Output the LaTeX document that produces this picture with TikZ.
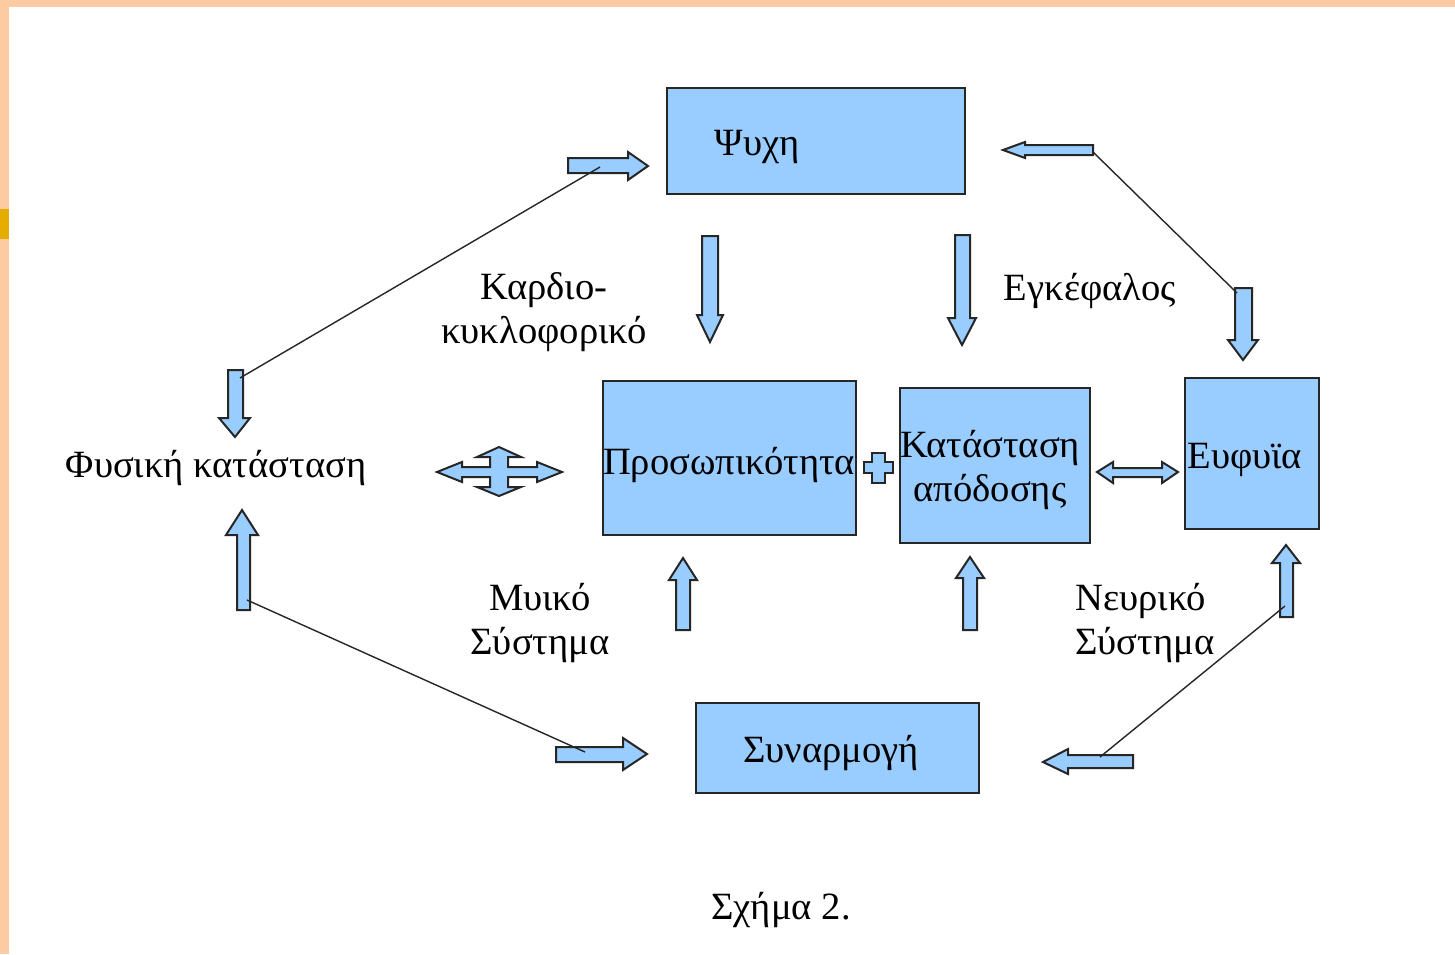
\documentclass[tikz,border=0pt]{standalone}
\usepackage{fontspec}
\setmainfont{Liberation Serif}
\usetikzlibrary{fit}
\definecolor{boxblue}{HTML}{99CCFF}
\definecolor{peach}{HTML}{FCCBA2}
\definecolor{gold}{HTML}{E6AC00}
\tikzset{
  box/.style={draw=black!85, line width=1pt, fill=boxblue, inner sep=0pt},
  barrow/.style={draw=black!85, line width=1pt, fill=boxblue, line join=miter},
  lbl/.style={inner sep=0pt, font=\fontsize{19.3}{22}\selectfont},
  link/.style={draw=black!85, line width=0.7pt}
}
\begin{document}
\begin{tikzpicture}[x=0.5pt,y=-0.5pt]
% page background and frame
\fill[peach] (0,0) rectangle (1455,954);
\fill[white] (9,7) rectangle (1455,954);
\fill[gold] (0,209) rectangle (9,239);
\useasboundingbox (0,0) rectangle (1455,954);

% boxes
\node[box, fit={(667,88) (965,194)}] (psi) {};
\node[box, fit={(603,381) (856,535)}] (pros) {};
\node[box, fit={(900,388) (1090,543)}] (kat) {};
\node[box, fit={(1185,378) (1319,529)}] (efy) {};
\node[box, fit={(696,703) (979,793)}] (syn) {};

% texts
\node[lbl] (tpsi) at (757,147) {Ψυχη};
\node[lbl] (tpros) at (729,465) {Προσωπικότητα};
\node[lbl, align=center] (tkat) at (990,470) {Κατάσταση\\απόδοσης};
\node[lbl, anchor=west] (tefy) at (1187,460) {Ευφυϊα};
\node[lbl] (tsyn) at (831,753) {Συναρμογή};
\node[lbl] (fys) at (216,468) {Φυσική κατάσταση};
\node[lbl, align=center] (kard) at (544,312) {Καρδιο-\\κυκλοφορικό};
\node[lbl] (egk) at (1090,291) {Εγκέφαλος};
\node[lbl, align=center] (myi) at (540,623) {Μυικό\\Σύστημα};
\node[lbl, align=left, anchor=west] (nev) at (1075,623) {Νευρικό\\Σύστημα};
\node[lbl] (sxima) at (781,910) {Σχήμα 2.};

% block arrows
\draw[barrow] (568,158)--(628,158)--(628,152)--(648,166)--(628,180)--(628,173)--(568,173)--cycle;
\draw[barrow] (556,747)--(623,747)--(623,738)--(647,754)--(623,770)--(623,762)--(556,762)--cycle;
\draw[barrow] (1133,755)--(1068,755)--(1068,749)--(1043,762)--(1068,774)--(1068,768)--(1133,768)--cycle;
\draw[barrow] (1093,145)--(1025,145)--(1025,142)--(1003,150)--(1025,158)--(1025,155)--(1093,155)--cycle;
\draw[barrow] (228,370)--(243,370)--(243,418)--(250,418)--(235,437)--(219,418)--(228,418)--cycle;
\draw[barrow] (237,610)--(250,610)--(250,535)--(258,535)--(242,510)--(226,535)--(237,535)--cycle;
\draw[barrow] (1280,617)--(1293,617)--(1293,563)--(1300,563)--(1286,545)--(1272,563)--(1280,563)--cycle;
\draw[barrow] (1235,288)--(1252,288)--(1252,340)--(1258,340)--(1243,360)--(1228,340)--(1235,340)--cycle;
\draw[barrow] (702,236)--(718,236)--(718,315)--(723,315)--(710,342)--(697,315)--(702,315)--cycle;
\draw[barrow] (955,235)--(970,235)--(970,318)--(976,318)--(962,345)--(948,318)--(955,318)--cycle;
\draw[barrow] (676,630)--(690,630)--(690,580)--(697,580)--(683,558)--(669,580)--(676,580)--cycle;
\draw[barrow] (963,630)--(977,630)--(977,578)--(984,578)--(970,557)--(956,578)--(963,578)--cycle;
\draw[barrow] (1097,472)--(1113,462)--(1113,468)--(1162,468)--(1162,462)--(1178,472)--(1162,483)--(1162,477)--(1113,477)--(1113,483)--cycle;
\draw[barrow] (872,453)--(885,453)--(885,462)--(893,462)--(893,473)--(885,473)--(885,483)--(872,483)--(872,473)--(864,473)--(864,462)--(872,462)--cycle;
\draw[barrow] (499,447)--(521,457)--(508,457)--(508,467)--(537,467)--(537,462)--(562,472)--(537,482)--(537,477)--(508,477)--(508,487)--(521,487)--(499,496)--(477,487)--(490,487)--(490,477)--(462,477)--(462,482)--(437,472)--(462,462)--(462,467)--(490,467)--(490,457)--(477,457)--cycle;

% connector lines
\coordinate (a1) at (240,378);
\coordinate (a2) at (600,167);
\coordinate (b1) at (247,600);
\coordinate (b2) at (585,752);
\coordinate (c1) at (1100,757);
\coordinate (c2) at (1285,606);
\coordinate (d1) at (1093,152);
\coordinate (d2) at (1237,293);
\draw[link] (a1) -- (a2);
\draw[link] (b1) -- (b2);
\draw[link] (c1) -- (c2);
\draw[link] (d1) -- (d2);
\end{tikzpicture}
\end{document}
